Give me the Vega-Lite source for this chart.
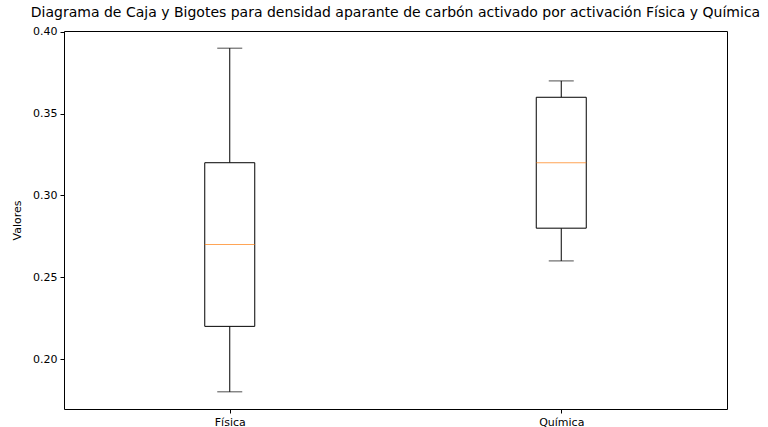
{
  "$schema": "https://vega.github.io/schema/vega-lite/v6.json",
  "width": 663,
  "height": 378,
  "autosize": {"type": "none"},
  "padding": {"left": 64, "top": 31, "right": 41, "bottom": 18},
  "background": "white",
  "config": {
    "font": "DejaVu Sans",
    "view": {"stroke": "black", "strokeWidth": 1},
    "axis": {"grid": false, "domain": false, "tickColor": "black", "tickSize": 4, "labelColor": "black", "labelFontSize": 11, "titleColor": "black", "titleFontSize": 11, "titleFontWeight": "normal", "labelFont": "DejaVu Sans", "titleFont": "DejaVu Sans"}
  },
  "title": {"text": "Diagrama de Caja y Bigotes para densidad aparante de carbón activado por activación Física y Química", "fontSize": 14, "fontWeight": "normal", "font": "DejaVu Sans", "anchor": "middle", "offset": 6, "color": "black"},
  "data": {"values": [
    {"grupo": "Física", "min": 0.18, "q1": 0.22, "med": 0.27, "q3": 0.32, "max": 0.39},
    {"grupo": "Química", "min": 0.26, "q1": 0.28, "med": 0.32, "q3": 0.36, "max": 0.37}
  ]},
  "encoding": {
    "x": {"field": "grupo", "type": "nominal", "sort": null, "scale": {"type": "point", "padding": 0.5}, "axis": {"title": null, "labelAngle": 0, "labelPadding": 3}}
  },
  "layer": [
    {"mark": {"type": "rule", "color": "black", "strokeWidth": 1},
     "encoding": {"y": {"field": "min", "type": "quantitative", "scale": {"domain": [0.1695, 0.4005], "nice": false, "zero": false}, "axis": {"title": "Valores", "values": [0.2, 0.25, 0.3, 0.35, 0.4], "format": ".2f", "labelPadding": 3, "titlePadding": 10}}, "y2": {"field": "q1"}}},
    {"mark": {"type": "rule", "color": "black", "strokeWidth": 1},
     "encoding": {"y": {"field": "q3", "type": "quantitative"}, "y2": {"field": "max"}}},
    {"mark": {"type": "bar", "fill": "white", "stroke": "black", "strokeWidth": 1, "size": 50},
     "encoding": {"y": {"field": "q1", "type": "quantitative"}, "y2": {"field": "q3"}}},
    {"mark": {"type": "tick", "color": "#ff7f0e", "thickness": 1, "size": 50},
     "encoding": {"y": {"field": "med", "type": "quantitative"}}},
    {"mark": {"type": "tick", "color": "black", "thickness": 1, "size": 25},
     "encoding": {"y": {"field": "min", "type": "quantitative"}}},
    {"mark": {"type": "tick", "color": "black", "thickness": 1, "size": 25},
     "encoding": {"y": {"field": "max", "type": "quantitative"}}}
  ]
}
